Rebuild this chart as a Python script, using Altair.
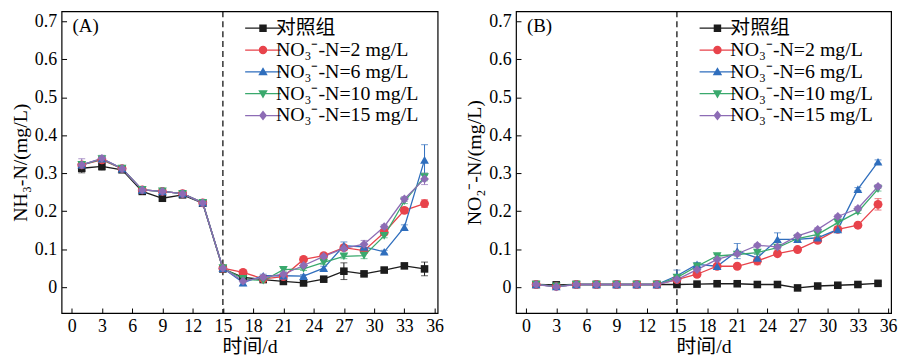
import altair as alt
import pandas as pd

FONT = "Liberation Serif, Noto Sans CJK SC"

days = [1, 3, 5, 7, 9, 11, 13, 15, 17, 19, 21, 23, 25, 27, 29, 31, 33, 35]
switch_day = [15]
series_names = ["对照组", "NO₃⁻-N=2 mg/L", "NO₃⁻-N=6 mg/L", "NO₃⁻-N=10 mg/L", "NO₃⁻-N=15 mg/L"]
series_colors = ["#1c1c1c", "#e8434b", "#2f6ebd", "#3aa96d", "#8d6cb5"]
point_shapes = ["square", "circle", "triangle-up", "triangle-down", "diamond"]
point_sizes = [58, 80, 78, 78, 80]
# legend symbols: a line segment with the series marker in its middle
legend_paths = [
    "M-3.6,-0.12H3.6V0.12H-3.6Z M-0.75,-0.75H0.75V0.75H-0.75Z",
    "M-3.6,-0.12H3.6V0.12H-3.6Z M0.85,0A0.85,0.85 0 1,1 -0.85,0A0.85,0.85 0 1,1 0.85,0Z",
    "M-3.6,-0.12H3.6V0.12H-3.6Z M0,-0.95L0.95,0.7H-0.95Z",
    "M-3.6,-0.12H3.6V0.12H-3.6Z M0,0.95L-0.95,-0.7H0.95Z",
    "M-3.6,-0.12H3.6V0.12H-3.6Z M0,-1L0.8,0L0,1L-0.8,0Z",
]
x_ticks = [0, 3, 6, 9, 12, 15, 18, 21, 24, 27, 30, 33, 36]
y_ticks = [0, 0.1, 0.2, 0.3, 0.4, 0.5, 0.6, 0.7]
panel_tags = ["(A)", "(B)"]
y_titles = ["NH₃-N/(mg/L)", "NO₂⁻-N/(mg/L)"]
x_title = "时间/d"

# ---- Panel A: NH3-N ----
nh3_control = [0.313, 0.318, 0.309, 0.252, 0.234, 0.243, 0.221, 0.048, 0.026, 0.020, 0.015, 0.011, 0.021, 0.042, 0.035, 0.045, 0.056, 0.048]
nh3_2 = [0.322, 0.335, 0.312, 0.256, 0.252, 0.246, 0.222, 0.050, 0.039, 0.022, 0.028, 0.073, 0.083, 0.104, 0.096, 0.144, 0.202, 0.220]
nh3_6 = [0.322, 0.338, 0.312, 0.256, 0.252, 0.246, 0.222, 0.050, 0.012, 0.030, 0.030, 0.029, 0.050, 0.109, 0.106, 0.093, 0.158, 0.335]
nh3_10 = [0.322, 0.337, 0.312, 0.256, 0.252, 0.246, 0.222, 0.050, 0.022, 0.017, 0.046, 0.048, 0.065, 0.081, 0.083, 0.135, 0.226, 0.290]
nh3_15 = [0.322, 0.339, 0.312, 0.256, 0.252, 0.246, 0.222, 0.050, 0.016, 0.026, 0.034, 0.057, 0.081, 0.102, 0.113, 0.159, 0.232, 0.285]

nh3_control_err = [0.012, 0.010, 0.005, 0.005, 0.005, 0.005, 0.004, 0.006, 0.004, 0.004, 0.004, 0.004, 0.004, 0.022, 0.004, 0.005, 0.005, 0.018]
nh3_2_err = [0.006, 0.006, 0.005, 0.004, 0.004, 0.004, 0.004, 0.004, 0.004, 0.004, 0.004, 0.005, 0.005, 0.006, 0.006, 0.006, 0.008, 0.010]
nh3_6_err = [0.006, 0.006, 0.005, 0.004, 0.004, 0.004, 0.004, 0.004, 0.008, 0.004, 0.004, 0.004, 0.005, 0.010, 0.006, 0.004, 0.006, 0.040]
nh3_10_err = [0.006, 0.006, 0.005, 0.004, 0.004, 0.004, 0.004, 0.004, 0.004, 0.004, 0.004, 0.004, 0.005, 0.006, 0.008, 0.005, 0.006, 0.010]
nh3_15_err = [0.016, 0.008, 0.005, 0.004, 0.004, 0.004, 0.004, 0.004, 0.004, 0.004, 0.004, 0.005, 0.005, 0.006, 0.010, 0.005, 0.006, 0.015]

# ---- Panel B: NO2-N ----
no2_control = [0.007, 0.006, 0.007, 0.007, 0.007, 0.007, 0.007, 0.007, 0.008, 0.009, 0.009, 0.007, 0.007, -0.002, 0.003, 0.005, 0.007, 0.010]
no2_2 = [0.007, 0.002, 0.007, 0.007, 0.007, 0.007, 0.007, 0.020, 0.034, 0.055, 0.055, 0.069, 0.088, 0.099, 0.123, 0.152, 0.163, 0.218]
no2_6 = [0.007, 0.002, 0.007, 0.007, 0.007, 0.007, 0.007, 0.030, 0.060, 0.055, 0.095, 0.077, 0.126, 0.126, 0.130, 0.152, 0.258, 0.330]
no2_10 = [0.007, 0.002, 0.007, 0.007, 0.007, 0.007, 0.007, 0.025, 0.055, 0.082, 0.086, 0.091, 0.104, 0.128, 0.139, 0.170, 0.198, 0.258]
no2_15 = [0.007, 0.001, 0.007, 0.007, 0.007, 0.007, 0.007, 0.020, 0.046, 0.073, 0.088, 0.110, 0.106, 0.135, 0.152, 0.186, 0.207, 0.265]

no2_control_err = [0.003, 0.003, 0.003, 0.003, 0.003, 0.003, 0.003, 0.003, 0.003, 0.003, 0.003, 0.003, 0.003, 0.003, 0.003, 0.003, 0.003, 0.004]
no2_2_err = [0.003, 0.003, 0.003, 0.003, 0.003, 0.003, 0.003, 0.004, 0.005, 0.004, 0.004, 0.010, 0.004, 0.004, 0.005, 0.004, 0.005, 0.015]
no2_6_err = [0.003, 0.003, 0.003, 0.003, 0.003, 0.003, 0.003, 0.015, 0.005, 0.004, 0.020, 0.010, 0.017, 0.005, 0.005, 0.004, 0.004, 0.005]
no2_10_err = [0.003, 0.003, 0.003, 0.003, 0.003, 0.003, 0.003, 0.004, 0.004, 0.004, 0.004, 0.004, 0.004, 0.004, 0.004, 0.004, 0.004, 0.005]
no2_15_err = [0.003, 0.003, 0.003, 0.003, 0.003, 0.003, 0.003, 0.004, 0.004, 0.004, 0.004, 0.004, 0.004, 0.004, 0.004, 0.004, 0.005, 0.005]


def make_frame(value_lists, err_lists):
    rows = []
    for k, (name, vals, errs) in enumerate(zip(series_names, value_lists, err_lists)):
        for d, v, e in zip(days, vals, errs):
            rows.append({"day": d, "value": v, "lo": round(v - e, 4), "hi": round(v + e, 4),
                         "series": name, "k": k})
    return pd.DataFrame(rows)


df_a = make_frame([nh3_control, nh3_2, nh3_6, nh3_10, nh3_15],
                  [nh3_control_err, nh3_2_err, nh3_6_err, nh3_10_err, nh3_15_err])
df_b = make_frame([no2_control, no2_2, no2_6, no2_10, no2_15],
                  [no2_control_err, no2_2_err, no2_6_err, no2_10_err, no2_15_err])

color_scale = alt.Scale(domain=series_names, range=series_colors)
x_scale = alt.Scale(domain=[-1, 36.3], nice=False, zero=False)
y_scale = alt.Scale(domain=[-0.068, 0.726], nice=False, zero=False)

common_axis = dict(offset=-5, tickSize=5, domain=False, grid=False, labelFont=FONT, titleFont=FONT,
                   labelFontSize=18, titleFontSize=20, titleFontWeight="normal", labelColor="black",
                   titleColor="black", tickColor="black", tickWidth=1, labelFlush=False,
                   labelOverlap=False)

x_axis = alt.Axis(values=x_ticks, title=x_title, labelPadding=5, titlePadding=1, **common_axis)


def y_axis(title):
    return alt.Axis(values=y_ticks, title=title, labelPadding=5, titlePadding=4,
                    labelExpr="datum.value == 0 ? '0' : format(datum.value, '.1f')", **common_axis)


def panel(df, tag, ytitle, width):
    yax = y_axis(ytitle)

    def X(field):
        return alt.X(f"{field}:Q", scale=x_scale, axis=x_axis)

    def Y(field):
        return alt.Y(f"{field}:Q", scale=y_scale, axis=yax)

    color = alt.Color("series:N", scale=color_scale, legend=None)
    base = alt.Chart(df)

    legend_def = alt.Legend(title=None, orient="none", legendX=184, legendY=7, padding=0,
                            labelFont=FONT, labelFontSize=20, labelColor="black", labelLimit=0,
                            symbolSize=100, symbolStrokeWidth=0, symbolOpacity=1,
                            rowPadding=2, symbolOffset=9, labelOffset=3)
    legend_layer = base.transform_filter("false").mark_point(filled=True, opacity=1, strokeWidth=0).encode(
        x=X("day"), y=Y("value"),
        color=alt.Color("series:N", scale=color_scale, legend=legend_def),
        shape=alt.Shape("series:N", scale=alt.Scale(domain=series_names, range=legend_paths),
                        legend=legend_def),
    )

    divider = alt.Chart(pd.DataFrame({"day": switch_day})).mark_rule(
        color="black", strokeWidth=1.2, strokeDash=[6, 4]).encode(x=X("day"))

    lines = base.mark_line(strokeWidth=1.3).encode(
        x=X("day"), y=Y("value"), color=color, detail="series:N", order="day:Q")

    bars = base.mark_rule(strokeWidth=1).encode(x=X("day"), y=Y("lo"), y2=alt.Y2("hi:Q"), color=color)
    caps_hi = base.mark_tick(orient="horizontal", size=7, thickness=1).encode(
        x=X("day"), y=Y("hi"), color=color)
    caps_lo = base.mark_tick(orient="horizontal", size=7, thickness=1).encode(
        x=X("day"), y=Y("lo"), color=color)

    points = []
    for name, c, s, sz in zip(series_names, series_colors, point_shapes, point_sizes):
        points.append(
            base.transform_filter(alt.datum.series == name)
            .mark_point(shape=s, filled=True, size=sz, opacity=1, color=c, strokeWidth=0)
            .encode(x=X("day"), y=Y("value"))
        )

    tag_text = alt.Chart(pd.DataFrame({"tag": [tag]})).mark_text(
        align="left", baseline="middle", font=FONT, fontSize=19, color="black"
    ).encode(text="tag:N", x=alt.value(11), y=alt.value(15))

    return alt.layer(legend_layer, divider, lines, bars, caps_hi, caps_lo, *points, tag_text).properties(
        width=width, height=304)


chart_a = panel(df_a, panel_tags[0], y_titles[0], 379)
chart_b = panel(df_b, panel_tags[1], y_titles[1], 378)

chart = alt.hconcat(chart_a, chart_b, spacing=79, bounds="flush").resolve_scale(
    color="independent", shape="independent"
).resolve_legend(
    color="independent", shape="independent"
).properties(
    padding={"left": 1, "top": 0, "right": 5, "bottom": 0}
).configure_view(stroke="black", strokeWidth=1.2)

chart.save("out.html", embed_options={"renderer": "svg", "actions": False})
